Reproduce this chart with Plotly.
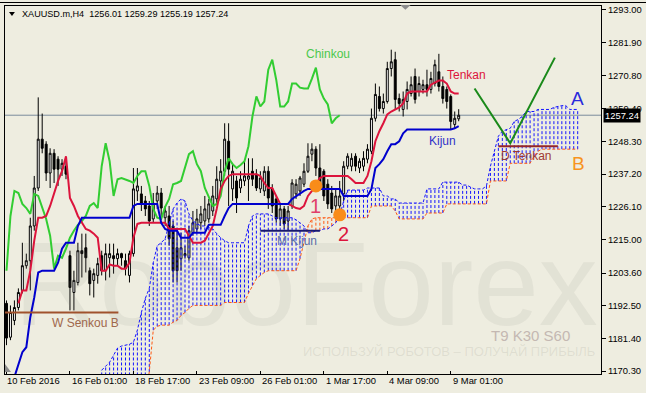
import plotly.graph_objects as go

# ---------------- data ----------------
x_tick_idx = [0, 16, 32, 48, 64, 80, 96, 112]
x_tick_labels = ["10 Feb 2016", "16 Feb 01:00", "18 Feb 17:00", "23 Feb 09:00",
                 "26 Feb 01:00", "1 Mar 17:00", "4 Mar 09:00", "9 Mar 01:00"]
y_tick_vals = [1293.00, 1281.90, 1270.80, 1259.40, 1248.30, 1237.20,
               1226.10, 1215.00, 1203.60, 1192.50, 1181.40, 1170.30]

opens = [1193.3, 1181.8, 1187.5, 1191.9, 1197.7, 1206.1, 1207.8, 1219.6, 1232.5, 1249.1,
         1247.4, 1237.6, 1244.3, 1242.3, 1238.9, 1239.9, 1209.5, 1197.0, 1200.4, 1211.2,
         1212.2, 1204.4, 1201.1, 1202.8, 1209.5, 1204.4, 1208.8, 1209.5, 1208.5, 1210.2,
         1207.8, 1202.8, 1210.2, 1231.5, 1230.5, 1228.1, 1226.4, 1222.0, 1228.1, 1230.8,
         1222.4, 1223.0, 1219.6, 1212.2, 1208.5, 1209.5, 1208.8, 1217.3, 1218.6, 1220.7,
         1221.3, 1222.0, 1224.7, 1228.8, 1234.9, 1238.2, 1248.4, 1232.2, 1234.9, 1232.5,
         1234.9, 1235.5, 1238.2, 1237.2, 1232.2, 1231.5, 1238.2, 1232.2, 1228.8, 1222.0,
         1225.4, 1221.3, 1226.4, 1230.5, 1231.5, 1233.8, 1238.2, 1244.0, 1245.7, 1239.3,
         1238.2, 1233.8, 1230.8, 1226.4, 1226.4, 1230.5, 1239.9, 1239.9, 1243.3, 1239.3,
         1239.9, 1242.3, 1245.0, 1256.2, 1263.6, 1259.5, 1261.9, 1273.1, 1276.1, 1262.9,
         1259.2, 1261.9, 1264.6, 1270.4, 1265.3, 1266.0, 1267.6, 1266.0, 1268.0, 1272.0,
         1267.0, 1266.0, 1263.6, 1254.1, 1256.01]
highs = [1194.3, 1192.6, 1194.3, 1198.4, 1213.9, 1210.2, 1222.4, 1236.6, 1263.3, 1257.8,
         1248.4, 1246.0, 1245.7, 1243.3, 1242.3, 1241.6, 1211.2, 1204.4, 1213.9, 1217.0,
         1217.0, 1205.5, 1205.1, 1208.8, 1211.2, 1213.6, 1213.6, 1213.6, 1211.9, 1210.5,
         1210.2, 1211.2, 1239.3, 1239.3, 1233.2, 1229.8, 1228.1, 1230.8, 1233.2, 1232.5,
         1226.4, 1226.4, 1221.3, 1218.6, 1217.3, 1212.9, 1219.6, 1224.7, 1225.4, 1226.4,
         1229.8, 1228.8, 1233.2, 1239.9, 1242.3, 1254.5, 1254.5, 1240.9, 1236.6, 1238.2,
         1241.6, 1242.6, 1242.6, 1238.9, 1238.2, 1239.9, 1239.9, 1233.8, 1229.8, 1227.1,
         1226.4, 1226.4, 1235.5, 1235.5, 1236.6, 1240.9, 1247.7, 1247.7, 1246.7, 1247.4,
         1238.9, 1235.5, 1233.2, 1232.2, 1234.9, 1241.6, 1244.3, 1244.3, 1244.3, 1242.6,
         1245.0, 1247.4, 1259.5, 1268.0, 1267.0, 1264.6, 1275.4, 1279.5, 1278.8, 1264.6,
         1265.3, 1268.7, 1270.4, 1273.1, 1270.4, 1269.3, 1272.7, 1272.0, 1276.1, 1278.1,
         1270.4, 1267.0, 1264.3, 1258.5, 1259.29]
lows = [1179.1, 1180.8, 1185.9, 1190.9, 1196.7, 1205.1, 1197.7, 1218.0, 1231.5, 1244.3,
        1234.9, 1232.5, 1234.2, 1233.2, 1236.6, 1235.5, 1190.9, 1190.9, 1199.4, 1202.1,
        1203.8, 1196.0, 1195.3, 1200.0, 1202.8, 1201.1, 1202.1, 1203.4, 1206.1, 1206.1,
        1202.8, 1200.4, 1209.2, 1228.1, 1224.7, 1223.0, 1219.6, 1220.7, 1225.4, 1222.4,
        1219.6, 1212.9, 1200.4, 1200.4, 1204.4, 1208.5, 1207.8, 1216.3, 1217.3, 1218.6,
        1219.6, 1220.7, 1223.0, 1227.4, 1231.5, 1236.6, 1226.4, 1228.1, 1224.0, 1230.8,
        1233.2, 1228.1, 1233.2, 1231.5, 1230.8, 1229.8, 1225.4, 1224.0, 1220.7, 1219.6,
        1218.6, 1218.0, 1225.4, 1228.8, 1229.8, 1232.8, 1237.6, 1241.6, 1236.6, 1232.2,
        1228.1, 1225.4, 1224.0, 1223.7, 1224.0, 1228.1, 1238.9, 1238.2, 1238.2, 1237.6,
        1238.2, 1240.9, 1244.0, 1255.1, 1258.5, 1257.8, 1261.2, 1270.4, 1259.2, 1258.5,
        1256.8, 1259.2, 1263.6, 1261.2, 1263.6, 1264.6, 1263.6, 1264.6, 1267.0, 1265.3,
        1261.2, 1259.5, 1252.4, 1252.8, 1255.19]
closes = [1181.5, 1190.2, 1191.9, 1197.0, 1206.1, 1207.8, 1219.6, 1232.5, 1249.1, 1246.0,
          1237.6, 1244.3, 1238.9, 1238.9, 1240.9, 1237.2, 1198.7, 1201.1, 1211.2, 1210.2,
          1208.8, 1200.0, 1203.4, 1206.8, 1204.4, 1210.2, 1210.2, 1208.5, 1210.2, 1208.8,
          1205.1, 1210.2, 1232.2, 1233.2, 1227.1, 1225.4, 1221.3, 1227.4, 1230.8, 1225.7,
          1224.7, 1215.3, 1204.4, 1204.4, 1212.2, 1210.2, 1218.0, 1220.7, 1222.0, 1223.7,
          1225.4, 1227.1, 1229.8, 1235.5, 1238.2, 1249.1, 1238.9, 1238.2, 1229.1, 1235.5,
          1236.6, 1236.6, 1235.5, 1232.5, 1235.9, 1238.2, 1229.1, 1226.4, 1222.0, 1225.4,
          1220.3, 1224.7, 1234.2, 1233.8, 1235.9, 1238.2, 1243.3, 1245.7, 1239.3, 1233.8,
          1229.8, 1227.1, 1225.4, 1229.8, 1229.8, 1239.9, 1243.3, 1242.6, 1239.9, 1241.6,
          1242.6, 1245.7, 1256.2, 1264.3, 1259.5, 1261.9, 1273.1, 1275.4, 1262.6, 1261.2,
          1262.6, 1266.0, 1267.6, 1262.6, 1268.0, 1267.6, 1266.0, 1269.7, 1274.4, 1267.0,
          1262.9, 1261.9, 1255.1, 1256.2, 1257.24]

tenkan_start = 3
tenkan = [1193.3, 1197.7, 1197.7, 1204.4, 1214.6, 1222.4, 1222.4, 1223.0, 1226.4, 1230.8,
          1234.9, 1238.2, 1243.3, 1229.1, 1226.4, 1223.0, 1220.7, 1218.6, 1218.0, 1217.0,
          1215.6, 1204.4, 1204.4, 1206.5, 1206.1, 1206.1, 1205.1, 1205.1, 1207.1, 1215.6,
          1220.3, 1220.7, 1220.7, 1220.7, 1220.7, 1220.7, 1220.7, 1220.7, 1218.6, 1218.6,
          1218.6, 1218.6, 1218.6, 1216.3, 1213.9, 1213.9, 1213.9, 1214.6, 1217.3, 1219.6,
          1225.4, 1232.2, 1234.9, 1236.6, 1237.2, 1237.2, 1237.2, 1237.2, 1237.2, 1237.2,
          1237.2, 1236.6, 1234.2, 1232.5, 1232.5, 1229.8, 1227.1, 1227.1, 1227.1, 1226.4,
          1225.7, 1225.4, 1226.4, 1229.8, 1231.5, 1233.8, 1235.9, 1236.6, 1236.6, 1236.6,
          1236.6, 1236.6, 1236.6, 1236.6, 1235.5, 1234.2, 1234.2, 1234.2, 1236.6, 1241.6,
          1248.4, 1251.8, 1254.5, 1257.5, 1258.5, 1259.2, 1259.9, 1261.2, 1264.6, 1265.3,
          1265.3, 1265.3, 1265.3, 1265.3, 1267.6, 1268.3, 1269.0, 1269.0, 1268.0, 1265.3,
          1264.6, 1264.6]

kijun_start = 2
kijun = [1168.3, 1172.3, 1176.7, 1178.4, 1188.6, 1195.3, 1203.8, 1204.4, 1204.4, 1204.4,
         1204.4, 1207.1, 1211.9, 1213.9, 1213.9, 1213.9, 1219.6, 1222.4, 1222.4, 1222.4,
         1222.4, 1222.4, 1222.4, 1222.4, 1222.4, 1222.4, 1222.4, 1222.4, 1222.4, 1222.4,
         1226.4, 1227.1, 1227.1, 1227.1, 1227.1, 1227.1, 1227.1, 1220.7, 1218.6, 1218.0,
         1218.0, 1218.0, 1215.6, 1215.6, 1215.6, 1217.3, 1217.3, 1217.3, 1217.3, 1220.0,
         1220.0, 1220.0, 1220.0, 1223.0, 1225.7, 1227.1, 1227.1, 1227.1, 1227.1, 1227.1,
         1227.1, 1227.1, 1227.1, 1227.1, 1227.1, 1227.1, 1227.1, 1227.1, 1227.1, 1227.1,
         1228.8, 1229.8, 1230.8, 1231.5, 1232.2, 1232.2, 1232.2, 1232.2, 1232.2, 1232.2,
         1232.2, 1232.2, 1232.2, 1229.8, 1229.8, 1229.8, 1229.8, 1229.8, 1229.8, 1229.8,
         1232.2, 1239.3, 1240.6, 1242.3, 1245.0, 1247.4, 1247.4, 1248.4, 1251.1, 1252.4,
         1252.4, 1252.4, 1252.4, 1252.4, 1252.4, 1252.4, 1252.4, 1252.4, 1252.4, 1252.4,
         1252.4, 1252.8, 1253.5]

chinkou = [1204.4, 1223.0, 1231.5, 1230.8, 1227.1, 1225.7, 1223.7, 1230.5, 1229.8, 1225.7,
           1222.0, 1216.3, 1205.1, 1209.5, 1208.8, 1211.9, 1215.6, 1218.0, 1220.0, 1221.3,
           1223.0, 1226.4, 1227.4, 1225.7, 1239.9, 1247.7, 1241.6, 1229.8, 1235.5, 1235.9,
           1235.5, 1234.9, 1234.2, 1236.6, 1238.2, 1238.2, 1233.2, 1225.4, 1222.4, 1222.0,
           1226.1, 1228.8, 1233.8, 1234.2, 1234.9, 1239.6, 1244.0, 1245.0, 1240.6, 1238.2,
           1232.5, 1229.5, 1226.4, 1227.1, 1229.8, 1238.2, 1242.6, 1240.6, 1239.3, 1240.3,
           1241.6, 1246.7, 1256.8, 1263.6, 1260.2, 1261.9, 1272.7, 1276.1, 1269.3, 1260.2,
           1260.2, 1261.9, 1268.0, 1268.0, 1266.6, 1266.3, 1266.3, 1269.7, 1273.4, 1266.0,
           1262.9, 1260.9, 1254.5, 1256.2, 1257.24]

cloud_start = 24
senkou_a = [1170.6, 1172.0, 1173.3, 1175.7, 1178.1, 1178.8, 1179.1, 1179.4, 1180.1, 1184.2,
            1190.2, 1195.0, 1198.4, 1207.1, 1212.9, 1213.9, 1215.3, 1220.7, 1225.4, 1227.4,
            1228.8, 1228.1, 1223.7, 1221.3, 1220.3, 1219.6, 1219.6, 1219.0, 1218.6, 1217.0,
            1215.6, 1214.6, 1213.9, 1213.9, 1213.9, 1213.9, 1213.9, 1219.6, 1223.0, 1223.7,
            1223.7, 1223.7, 1223.7, 1223.0, 1222.4, 1222.4, 1222.4, 1222.4, 1222.4, 1221.7,
            1220.7, 1219.6, 1217.3, 1217.3, 1218.0, 1218.0, 1218.6, 1218.6, 1219.6, 1220.7,
            1223.0, 1228.1, 1231.8, 1231.8, 1231.8, 1231.8, 1231.8, 1232.5, 1232.5, 1232.5,
            1232.5, 1229.8, 1229.8, 1228.8, 1228.8, 1227.4, 1227.4, 1227.4, 1227.4, 1227.4,
            1227.4, 1227.4, 1232.2, 1232.2, 1232.2, 1232.2, 1234.5, 1234.5, 1234.5, 1234.5,
            1234.5, 1233.5, 1233.5, 1232.8, 1232.2, 1232.2, 1232.2, 1233.2, 1239.9, 1245.0,
            1250.1, 1251.8, 1252.4, 1252.8, 1255.1, 1255.8, 1256.8, 1258.5, 1258.5, 1258.5,
            1259.2, 1259.2, 1259.2, 1259.2, 1259.9, 1260.2, 1260.5, 1260.5, 1259.2, 1259.2,
            1259.2]
senkou_b = [1162.0, 1162.0, 1162.0, 1162.0, 1162.0, 1162.0, 1162.0, 1162.0, 1162.0, 1162.0,
            1162.0, 1162.0, 1170.0, 1184.2, 1185.5, 1185.9, 1185.9, 1185.9, 1186.9, 1187.5,
            1189.2, 1190.2, 1191.6, 1192.6, 1192.6, 1192.6, 1192.6, 1192.6, 1192.6, 1192.6,
            1192.6, 1193.6, 1193.6, 1193.6, 1193.6, 1193.6, 1193.6, 1196.7, 1199.4, 1201.7,
            1202.8, 1203.8, 1204.4, 1204.4, 1204.4, 1204.4, 1204.4, 1204.4, 1204.4, 1204.4,
            1208.5, 1214.6, 1219.6, 1222.0, 1222.4, 1222.4, 1222.4, 1222.4, 1222.4, 1222.4,
            1222.4, 1222.4, 1222.4, 1222.4, 1222.4, 1222.4, 1222.4, 1222.4, 1226.4, 1226.4,
            1226.4, 1226.4, 1226.4, 1226.4, 1224.7, 1222.0, 1222.0, 1222.0, 1222.0, 1222.0,
            1222.0, 1222.0, 1224.0, 1224.0, 1224.0, 1224.0, 1224.0, 1227.1, 1227.1, 1227.1,
            1227.1, 1227.1, 1227.1, 1227.1, 1227.1, 1227.1, 1227.1, 1227.1, 1234.9, 1234.9,
            1234.9, 1234.9, 1234.9, 1240.9, 1240.9, 1240.9, 1240.9, 1240.9, 1240.9, 1243.3,
            1245.0, 1245.7, 1245.7, 1245.7, 1245.7, 1245.7, 1245.7, 1245.7, 1245.7, 1245.7,
            1245.7]

signal_x = [78.0, 84.0]
signal_y = [1233.2, 1223.4]
last_price = 1257.24

# ---------------- styling ----------------
BG = "#EEEDE0"
FONT = "Liberation Sans, Arial, sans-serif"
HATCH_BLUE = "#1414FF"
HATCH_ORANGE = "#FF5A14"

fig = go.Figure()

# watermark (drawn first, faint)
fig.add_trace(go.Scatter(x=[75.5], y=[1196.0], mode="text", text=["RoboForex"],
                         textfont=dict(size=118, family=FONT, color="rgba(140,140,125,0.11)"),
                         hoverinfo="skip", showlegend=False, cliponaxis=False))
fig.add_trace(go.Scatter(x=[111.6], y=[1176.4], mode="text",
                         text=["ИСПОЛЬЗУЙ РОБОТОВ – ПОЛУЧАЙ ПРИБЫЛЬ"],
                         textfont=dict(size=13, family=FONT, color="rgba(140,140,125,0.16)"),
                         hoverinfo="skip", showlegend=False))

# candles
bars = list(range(len(opens)))
fig.add_trace(go.Candlestick(
    x=bars, open=opens, high=highs, low=lows, close=closes,
    increasing=dict(line=dict(color="black", width=1), fillcolor="white"),
    decreasing=dict(line=dict(color="black", width=1), fillcolor="black"),
    whiskerwidth=0, showlegend=False, hoverinfo="skip"))

# kumo hatch
cloud_idx = list(range(cloud_start, cloud_start + len(senkou_a)))
bx, by, ox, oy = [], [], [], []
for i, a, b in zip(cloud_idx, senkou_a, senkou_b):
    if a >= b:
        bx += [i, i, None]
        by += [b, a, None]
    else:
        ox += [i, i, None]
        oy += [a, b, None]
fig.add_trace(go.Scatter(x=bx, y=by, mode="lines",
                         line=dict(color=HATCH_BLUE, width=1, dash="3px,2px"),
                         hoverinfo="skip", showlegend=False))
fig.add_trace(go.Scatter(x=ox, y=oy, mode="lines",
                         line=dict(color=HATCH_ORANGE, width=1, dash="3px,2px"),
                         hoverinfo="skip", showlegend=False))
fig.add_trace(go.Scatter(x=cloud_idx, y=senkou_a, mode="lines",
                         line=dict(color=HATCH_BLUE, width=1, dash="3px,2px"),
                         hoverinfo="skip", showlegend=False))
fig.add_trace(go.Scatter(x=cloud_idx, y=senkou_b, mode="lines",
                         line=dict(color=HATCH_ORANGE, width=1, dash="3px,2px"),
                         hoverinfo="skip", showlegend=False))

# ichimoku lines
fig.add_trace(go.Scatter(x=list(range(len(chinkou))), y=chinkou, mode="lines",
                         line=dict(color="#32CD32", width=2), hoverinfo="skip", showlegend=False))
fig.add_trace(go.Scatter(x=list(range(tenkan_start, tenkan_start + len(tenkan))), y=tenkan, mode="lines",
                         line=dict(color="#DC143C", width=2), hoverinfo="skip", showlegend=False))
fig.add_trace(go.Scatter(x=list(range(kijun_start, kijun_start + len(kijun))), y=kijun, mode="lines",
                         line=dict(color="#0000CD", width=2), hoverinfo="skip", showlegend=False))

# signal dots
fig.add_trace(go.Scatter(x=signal_x, y=signal_y, mode="markers",
                         marker=dict(color="#F98C1A", size=13, line=dict(width=0)),
                         hoverinfo="skip", showlegend=False))

shapes = [
    dict(type="line", xref="x", yref="y", x0=-0.375, x1=28.2, y0=1190.2, y1=1190.2,
         line=dict(color="#A0522D", width=2)),
    dict(type="line", xref="x", yref="y", x0=64, x1=79, y0=1218.0, y1=1218.0,
         line=dict(color="#191970", width=2)),
    dict(type="line", xref="x", yref="y", x0=124, x1=139, y0=1246.7, y1=1246.7,
         line=dict(color="#962626", width=2)),
    dict(type="path", xref="x", yref="y", path="M 118,1266.3 L 127,1247.7 L 138.25,1276.8",
         line=dict(color="#1A8A1A", width=2)),
    dict(type="line", x0=0, x1=1, y0=last_price, y1=last_price, xref="paper", yref="y",
         line=dict(color="#7A8B9C", width=1), layer="below"),
    dict(type="path", xref="paper", yref="paper",
         path="M 0.663,1.0027 L 0.6805,1.0027 L 0.6718,0.990 Z",
         fillcolor="#8C8C8C", line=dict(width=0)),
    dict(type="path", xref="paper", yref="paper",
         path="M 0.0067,0.9838 L 0.0166,0.9838 L 0.0117,0.973 Z",
         fillcolor="black", line=dict(width=0)),
    dict(type="path", xref="paper", yref="paper",
         path="M 0.0,0.027 L 0.0,0.0054 L 0.01,0.0054 Z",
         fillcolor="#8C8C8C", line=dict(width=0)),
    dict(type="line", xref="paper", yref="paper", x0=-0.01, x1=1.08, y0=1.0095, y1=1.0095,
         line=dict(color="black", width=1)),
]

ann = []
def txt(x, y, s, color, size, xref="x", yref="y", xanchor="center", yanchor="middle", **kw):
    ann.append(dict(x=x, y=y, xref=xref, yref=yref, text=s, showarrow=False,
                    xanchor=xanchor, yanchor=yanchor,
                    font=dict(family=FONT, size=size, color=color), **kw))

txt(81, 1278.1, "Chinkou", "#4CC84C", 12)
txt(116, 1271.0, "Tenkan", "#DC143C", 12)
txt(110, 1248.4, "Kijun", "#3232C8", 12)
txt(78, 1226.4, "1", "#E0406A", 20)
txt(85, 1216.9, "2", "#DC143C", 20)
txt(144, 1262.9, "A", "#2A2ADC", 19)
txt(144.25, 1241.0, "B", "#F7931E", 19)
txt(131, 1243.3, "D Tenkan", "#9E3A34", 12)
txt(73.25, 1214.6, "M Kijun", "#5B6EA8", 12)
txt(20, 1186.5, "W Senkou B", "#A0684C", 12)
txt(132, 1182.5, "T9 K30 S60", "#C4B8B2", 15)

txt(0.025, 0.978, "XAUUSD.m,H4\u00a0\u00a01256.01 1259.29 1255.19 1257.24", "black", 9.1,
    xref="paper", yref="paper", xanchor="left")
for i, lab in zip(x_tick_idx, x_tick_labels):
    txt(i if i > 0 else -0.375, -0.019, lab, "black", 9.4, yref="paper", xanchor="left")
txt(1.0, last_price, f"{last_price:.2f}", "white", 9.4, xref="paper", xanchor="left",
    xshift=2, bgcolor="black", borderpad=1)

fig.update_layout(
    width=646, height=393,
    margin=dict(l=4, r=41, t=4, b=19),
    paper_bgcolor=BG, plot_bgcolor=BG,
    shapes=shapes, annotations=ann,
    font=dict(family=FONT, size=9.4, color="black"),
    xaxis=dict(range=[-0.375, 149.875], showgrid=False, zeroline=False,
               tickvals=x_tick_idx, showticklabels=False, ticks="inside", ticklen=3,
               tickcolor="black", showline=True, mirror=True, linecolor="black", linewidth=1,
               rangeslider=dict(visible=False), fixedrange=True),
    yaxis=dict(range=[1169.3, 1294.35], side="right", showgrid=False, zeroline=False,
               tickvals=y_tick_vals, ticktext=[f"{v:.2f}" for v in y_tick_vals],
               ticks="outside", ticklen=4, tickcolor="black",
               tickfont=dict(family=FONT, size=9.4, color="black"),
               showline=True, mirror=True, linecolor="black", linewidth=1, fixedrange=True),
    showlegend=False,
)

fig.write_html("out.html")
